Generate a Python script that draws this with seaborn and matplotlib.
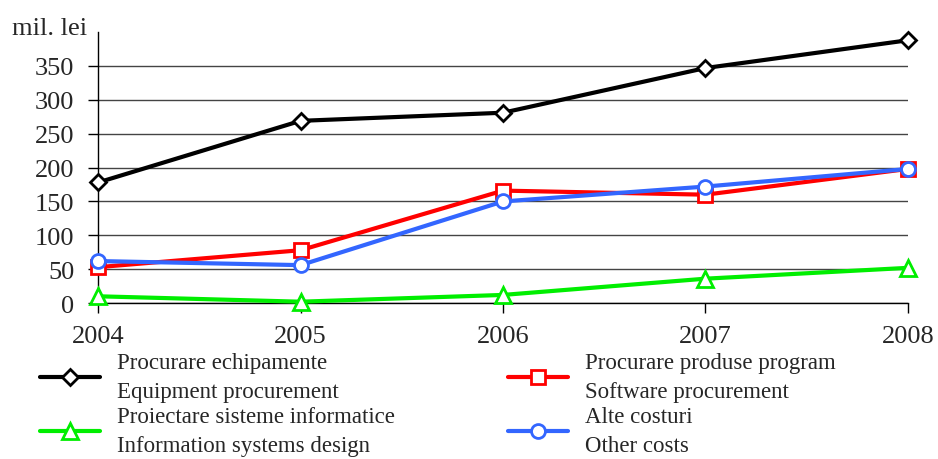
import numpy as np
import pandas as pd
import matplotlib.pyplot as plt
import seaborn as sns

years = [2004, 2005, 2006, 2007, 2008]
equipment = [178, 269, 281, 347, 388]
software = [53, 78, 166, 160, 198]
design = [10, 2, 12, 36, 52]
other = [62, 56, 150, 172, 198]

labels = [
    "Procurare echipamente\nEquipment procurement",
    "Proiectare sisteme informatice\nInformation systems design",
    "Procurare produse program\nSoftware procurement",
    "Alte costuri\nOther costs",
]
series = [equipment, design, software, other]
colors = ["black", "#00ee00", "red", "#3366ff"]
markers = ["D", "^", "s", "o"]
msizes = [8, 11, 10, 10]

sns.set_style("white")
plt.rcParams["font.family"] = ["Liberation Serif", "DejaVu Serif"]

fig = plt.figure(figsize=(9.38, 4.6), dpi=100)
ax = fig.add_axes([0.1045, 0.339, 0.8635, 0.589])

for vals, lab, col, mk, ms in zip(series, labels, colors, markers, msizes):
    df = pd.DataFrame({"year": years, "value": vals})
    sns.lineplot(data=df, x="year", y="value", ax=ax, color=col, lw=3,
                 marker=mk, markersize=ms, markerfacecolor="white",
                 markeredgecolor=col, markeredgewidth=2, label=lab,
                 clip_on=False, zorder=3)

ax.set_xlim(2004, 2008)
ax.set_ylim(0, 400)
ax.set_xticks(years)
ax.set_yticks(np.arange(0, 351, 50))
ax.yaxis.grid(True, color="#444444", lw=1)
ax.set_axisbelow(True)
ax.set_xlabel("")
ax.set_ylabel("")
for s in ["top", "right"]:
    ax.spines[s].set_visible(False)
for s in ["left", "bottom"]:
    ax.spines[s].set_color("black")
    ax.spines[s].set_linewidth(1)
ax.tick_params(axis="both", direction="out", length=7, width=1, color="black",
               labelsize=19, left=True, bottom=True)
ax.tick_params(axis="x", pad=9)
ax.tick_params(axis="y", pad=10)

fig.text(0.013, 0.937, "mil. lei", fontsize=19, va="center")

leg = ax.legend(loc="upper left", bbox_to_anchor=(0.043, 0.232),
                bbox_transform=fig.transFigure, ncol=2, frameon=False,
                fontsize=16.5, handlelength=2.6, handletextpad=0.75,
                columnspacing=4.95, labelspacing=0.18, borderpad=0,
                borderaxespad=0)
for t in leg.get_texts():
    t.set_linespacing(1.5)

fig.savefig("out.png", dpi=100)
